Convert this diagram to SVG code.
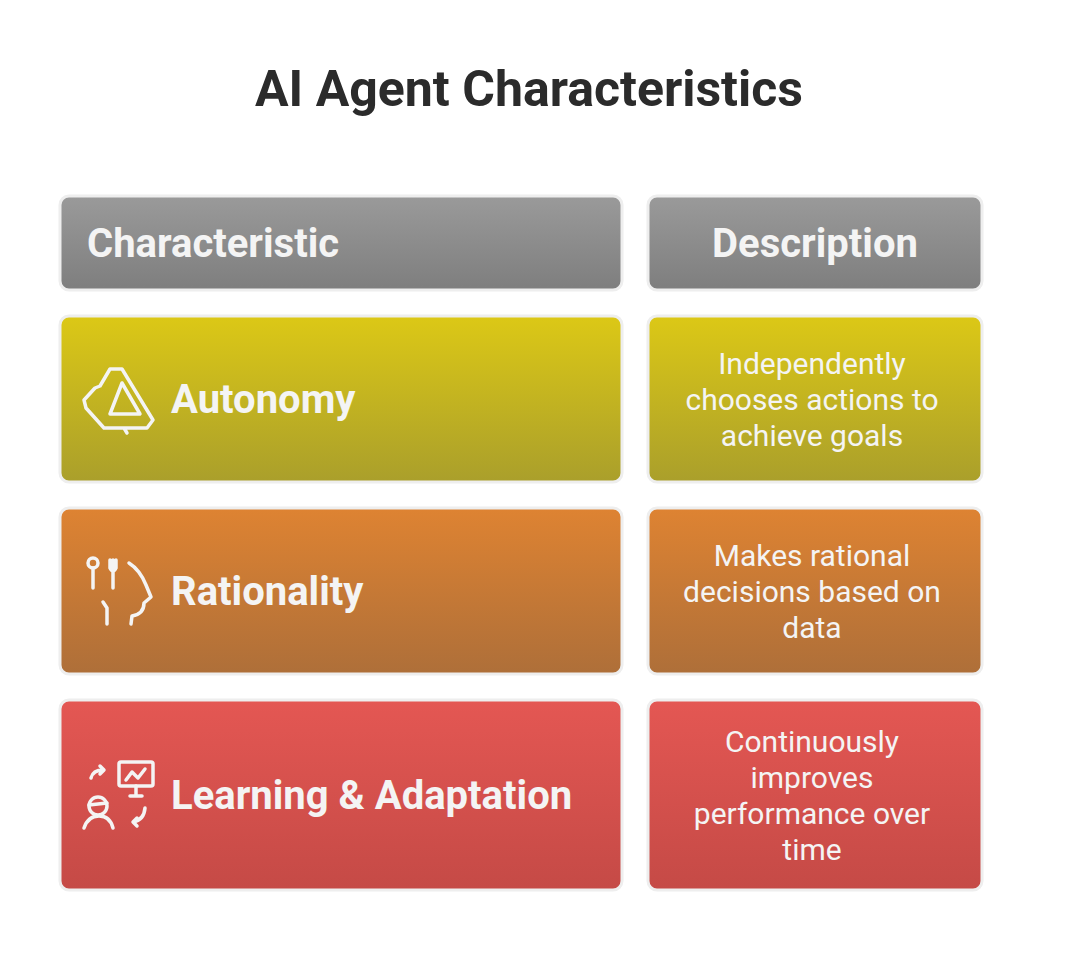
<svg xmlns="http://www.w3.org/2000/svg" width="1071" height="953" viewBox="0 0 1071 953">
<defs>
<linearGradient id="gh" x1="0" y1="0" x2="0" y2="1"><stop offset="0" stop-color="#9a9a9a"/><stop offset="1" stop-color="#7e7e7e"/></linearGradient>
<linearGradient id="gy" x1="0" y1="0" x2="0" y2="1"><stop offset="0" stop-color="#dcc816"/><stop offset="1" stop-color="#aa9f2b"/></linearGradient>
<linearGradient id="go" x1="0" y1="0" x2="0" y2="1"><stop offset="0" stop-color="#de8332"/><stop offset="1" stop-color="#ae6f39"/></linearGradient>
<linearGradient id="gr" x1="0" y1="0" x2="0" y2="1"><stop offset="0" stop-color="#e45753"/><stop offset="1" stop-color="#c54a46"/></linearGradient>
<style>
.b{stroke:#eeeeee;stroke-width:3}
.t{font-family:Roboto,"Liberation Sans",sans-serif;fill:#f4f4f4}
.h{font-size:40px;font-weight:bold}
.d{font-size:30px;text-anchor:middle}
.i{fill:none;stroke:#f4f4f4;stroke-width:3.5;stroke-linecap:round;stroke-linejoin:round}
</style>
</defs>
<rect width="1071" height="953" fill="#fff"/>
<text x="529" y="106" text-anchor="middle" font-family="Roboto,'Liberation Sans',sans-serif" font-size="50" font-weight="bold" fill="#2b2b2b">AI Agent Characteristics</text>
<g id="hdr1"><rect class="b" x="60" y="196" width="562" height="94" rx="9" fill="url(#gh)"/><text class="t h" x="87" y="257">Characteristic</text></g>
<g id="hdr2"><rect class="b" x="648" y="196" width="334" height="94" rx="9" fill="url(#gh)"/><text class="t h" x="815" y="257" text-anchor="middle">Description</text></g>
<g id="row1"><rect class="b" x="60" y="316" width="562" height="166" rx="9" fill="url(#gy)"/>
<path class="i" d="M110 369 L122 369 L153 420 L147 428 L104 428 L86 408 L84 400 L95 388 L100 386 Z M122 383 L140 414 L110 414 Z M124 428 L127 433"/>
<text class="t h" x="171" y="413">Autonomy</text></g>
<g id="desc1"><rect class="b" x="648" y="316" width="334" height="166" rx="9" fill="url(#gy)"/>
<text class="t d" x="812" y="374">Independently</text><text class="t d" x="812" y="410">chooses actions to</text><text class="t d" x="812" y="446">achieve goals</text></g>
<g id="row2"><rect class="b" x="60" y="508" width="562" height="166" rx="9" fill="url(#go)"/>
<circle class="i" cx="93" cy="563" r="5"/><path class="i" d="M93 568 L93 588 M110 560 L110 568 Q113 574 116 568 L116 560 M113 560 L113 588 M129 563 Q140 570 146 585 L151 597 L144 603 Q144 614 132 616 L131 624 M103 602 L107 608 L107 624"/>
<text class="t h" x="171" y="605">Rationality</text></g>
<g id="desc2"><rect class="b" x="648" y="508" width="334" height="166" rx="9" fill="url(#go)"/>
<text class="t d" x="812" y="566">Makes rational</text><text class="t d" x="812" y="602">decisions based on</text><text class="t d" x="812" y="638">data</text></g>
<g id="row3"><rect class="b" x="60" y="700" width="562" height="190" rx="9" fill="url(#gr)"/>
<rect class="i" x="119" y="762" width="34" height="24" rx="2"/><path class="i" d="M136 786 L136 796 M130 796 L142 796 M126 780 L132 772 L138 778 L145 769 M91 778 Q93 770 103 770 M100 766 L104 770 L100 774 M145 808 Q144 820 133 822 M137 818 L133 822 L137 826 M84 828 Q88 816 99 816 Q110 816 113 828"/>
<circle class="i" cx="98" cy="806" r="9"/><path class="i" d="M89 805 L107 803"/>
<text class="t h" x="171" y="809">Learning &amp; Adaptation</text></g>
<g id="desc3"><rect class="b" x="648" y="700" width="334" height="190" rx="9" fill="url(#gr)"/>
<text class="t d" x="812" y="752">Continuously</text><text class="t d" x="812" y="788">improves</text><text class="t d" x="812" y="824">performance over</text><text class="t d" x="812" y="860">time</text></g>
<g id="connectors"/>
</svg>
